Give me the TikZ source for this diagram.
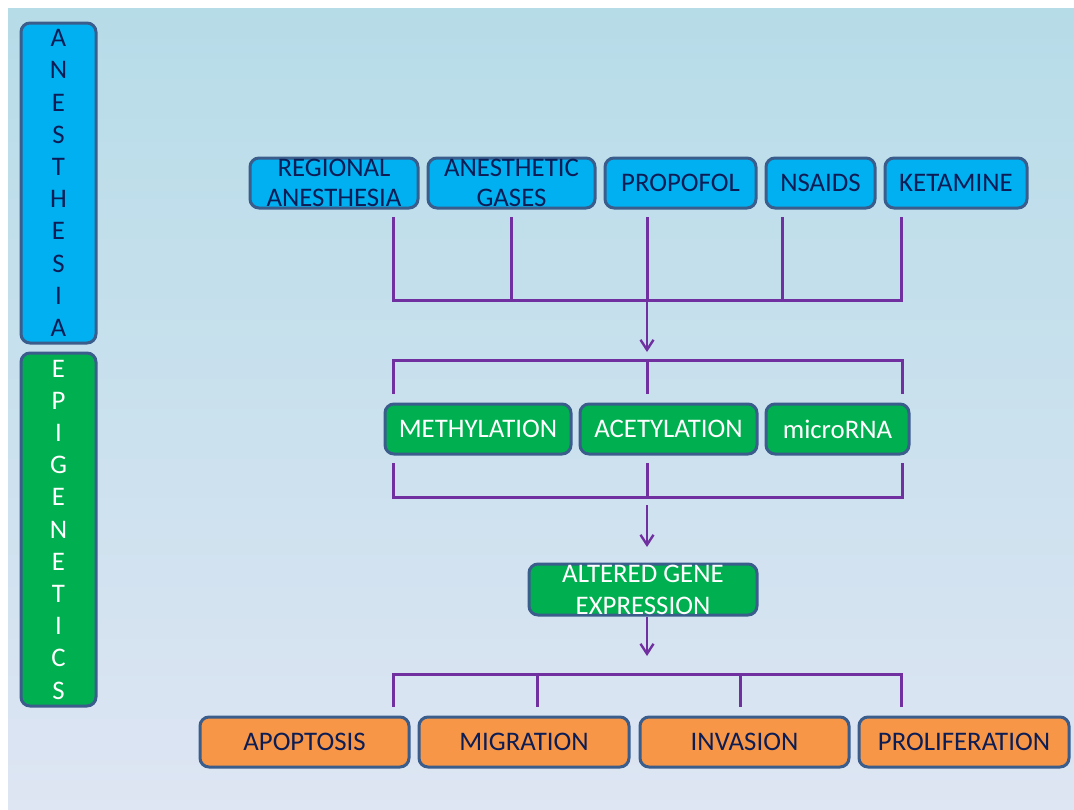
\documentclass[tikz,border=0pt]{standalone}
\usepackage{fontspec}
\setmainfont{Carlito}
\usetikzlibrary{arrows.meta}

\definecolor{bgtop}{HTML}{B6DCE8}
\definecolor{bgmid}{HTML}{C1D2EB}
\definecolor{bgbot}{HTML}{DEE5F3}
\definecolor{edge}{HTML}{3A5D8C}
\definecolor{navy}{HTML}{0C1C55}
\definecolor{boxblue}{HTML}{00B0F0}
\definecolor{boxgreen}{HTML}{00B050}
\definecolor{boxorange}{HTML}{F79646}
\definecolor{purp}{HTML}{7030A0}

\begin{document}
\begin{tikzpicture}[x=1pt,y=-1pt,
  box/.style={draw=edge,line width=3pt,rounded corners=9pt,minimum height=50pt,
    inner xsep=2pt,inner ysep=0pt,align=center,font=\fontsize{26.8}{30}\selectfont},
  drug/.style={box,fill=boxblue,text=navy},
  epi/.style={box,fill=boxgreen,text=white},
  fate/.style={box,fill=boxorange,text=navy},
  side/.style={minimum width=75pt,font=\fontsize{26.8}{32.2}\selectfont},
  link/.style={draw=purp,line width=3pt},
  flow/.style={draw=purp,line width=2.4pt,-{Straight Barb[length=10pt,width=13pt]}}]

  % background
  \useasboundingbox (0,0) rectangle (1074,809);
  \shade[top color=bgtop,middle color=bgmid,bottom color=bgbot] (8,8) rectangle (1074,809);

  % side labels
  \node[drug,side,minimum height=320pt] (anes) at (58.5,183)
    {A\\N\\E\\S\\T\\H\\E\\S\\I\\A};
  \node[epi,side,minimum height=353pt] (epig) at (58.5,529.5)
    {E\\P\\I\\G\\E\\N\\E\\T\\I\\C\\S};

  % anesthetics
  \node[drug,minimum width=168pt] (reg) at (334,183) {REGIONAL\\ANESTHESIA};
  \node[drug,minimum width=167pt] (gas) at (511.5,183) {ANESTHETIC\\GASES};
  \node[drug,minimum width=151pt] (prop) at (680.5,183) {PROPOFOL};
  \node[drug,minimum width=109pt] (nsaid) at (820.5,183) {NSAIDS};
  \node[drug,minimum width=142pt] (ket) at (956,183) {KETAMINE};

  % epigenetic mechanisms
  \node[epi,minimum width=186pt] (meth) at (478,429) {METHYLATION};
  \node[epi,minimum width=177pt] (acet) at (668.5,429) {ACETYLATION};
  \node[epi,minimum width=143pt] (mirna) at (837.5,429) {microRNA};
  \node[epi,minimum width=228pt,minimum height=51pt,font=\fontsize{26.8}{32}\selectfont]
    (gene) at (643,589.5) {ALTERED GENE\\EXPRESSION};

  % outcomes
  \node[fate,minimum width=209pt] (apop) at (304.5,742) {APOPTOSIS};
  \node[fate,minimum width=210pt] (migr) at (524,742) {MIGRATION};
  \node[fate,minimum width=209pt] (inva) at (744.5,742) {INVASION};
  \node[fate,minimum width=210pt] (prol) at (964,742) {PROLIFERATION};

  % bracket joints
  \coordinate (d1) at (393,217);
  \coordinate (d2) at (511,217);
  \coordinate (d3) at (647,217);
  \coordinate (d4) at (782,217);
  \coordinate (d5) at (901,217);
  \coordinate (topbar) at (647,300);
  \coordinate (midtop) at (647,360);
  \coordinate (u1) at (393,394);
  \coordinate (u2) at (647,394);
  \coordinate (u3) at (902,394);
  \coordinate (l1) at (393,463);
  \coordinate (l2) at (647,463);
  \coordinate (l3) at (902,463);
  \coordinate (midbot) at (647,497);
  \coordinate (gin) at (647,547);
  \coordinate (gout) at (647,656);
  \coordinate (botbar) at (647,674);
  \coordinate (b1) at (393,707);
  \coordinate (b2) at (537,707);
  \coordinate (b3) at (740,707);
  \coordinate (b4) at (901,707);

  % connectors
  \foreach \d in {d1,d2,d3,d4,d5}
    \draw[link] (\d) |- (topbar);
  \draw[flow] (topbar) -- ([yshift=8pt]midtop);
  \foreach \u in {u1,u2,u3}
    \draw[link] (midtop) -| (\u);
  \foreach \l in {l1,l2,l3}
    \draw[link] (\l) |- (midbot);
  \draw[flow] ([yshift=-8pt]midbot) -- (gin);
  \draw[flow] (gene.south -| midbot) -- (gout);
  \foreach \b in {b1,b2,b3,b4}
    \draw[link] (botbar) -| (\b);
\end{tikzpicture}
\end{document}
